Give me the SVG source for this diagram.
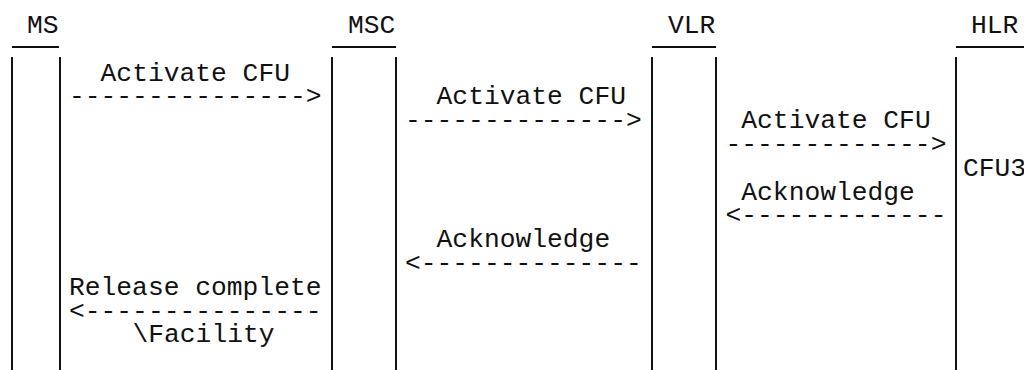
<svg xmlns="http://www.w3.org/2000/svg" width="1024" height="370" viewBox="0 0 1024 370">
<style>
text{font-family:"Liberation Mono","Courier New",monospace;font-size:26.3px;fill:#111}
.bar{stroke:#111;stroke-width:2;fill:none}
</style>
<rect width="1024" height="370" fill="#fff"/>
<g id="node-MS">
<text x="27" y="32.5">MS</text>
<line class="bar" x1="12" y1="47" x2="59" y2="47"/>
<line class="bar" x1="12" y1="57" x2="12" y2="370"/>
<line class="bar" x1="60" y1="57" x2="60" y2="370"/>
</g>
<g id="node-MSC">
<text x="348" y="32.5">MSC</text>
<line class="bar" x1="332" y1="47" x2="396" y2="47"/>
<line class="bar" x1="332" y1="57" x2="332" y2="370"/>
<line class="bar" x1="396" y1="57" x2="396" y2="370"/>
</g>
<g id="node-VLR">
<text x="668" y="32.5">VLR</text>
<line class="bar" x1="652" y1="47" x2="716" y2="47"/>
<line class="bar" x1="652" y1="57" x2="652" y2="370"/>
<line class="bar" x1="716" y1="57" x2="716" y2="370"/>
</g>
<g id="node-HLR">
<text x="971" y="32.5">HLR</text>
<line class="bar" x1="956" y1="47" x2="1024" y2="47"/>
<line class="bar" x1="956" y1="57" x2="956" y2="370"/>
<text x="963" y="175.7">CFU3</text>
</g>
<g id="connectors">
<text x="100.6" y="80.5">Activate CFU</text>
<text x="69" y="104.3">---------------&gt;</text>
<text x="436.6" y="104.3">Activate CFU</text>
<text x="405" y="128.1">--------------&gt;</text>
<text x="741.3" y="128.1">Activate CFU</text>
<text x="725.5" y="151.9">-------------&gt;</text>
<text x="741.3" y="199.5">Acknowledge</text>
<text x="725.5" y="223.3">&lt;-------------</text>
<text x="436.6" y="247.1">Acknowledge</text>
<text x="405" y="270.9">&lt;--------------</text>
<text x="69" y="294.7">Release complete</text>
<text x="69" y="318.5">&lt;---------------</text>
<text x="132.5" y="342.3">\Facility</text>
</g>
</svg>
